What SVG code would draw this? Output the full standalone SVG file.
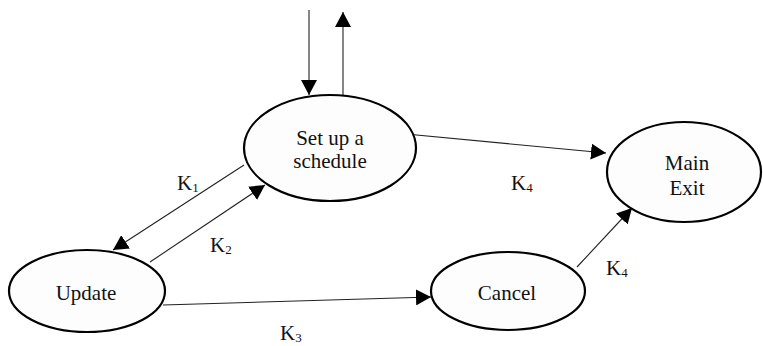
<svg xmlns="http://www.w3.org/2000/svg" width="763" height="346" viewBox="0 0 763 346">
  <defs>
    <marker id="arrow" markerUnits="userSpaceOnUse" markerWidth="16" markerHeight="16" refX="15" refY="8" orient="auto">
      <path d="M0,0 L15,8 L0,16 Z" fill="#000"/>
    </marker>
    <style>
      .state { fill: #fdfdfd; stroke: #000; stroke-width: 2.2; }
      .name { font-family: "Liberation Serif", "Times New Roman", serif; font-size: 21px; fill: #111; text-anchor: middle; }
      .edge { stroke: #222; stroke-width: 1.1; fill: none; marker-end: url(#arrow); }
      .key { font-family: "Liberation Serif", "Times New Roman", serif; font-size: 21px; fill: #111; }
      .sub { font-size: 13px; }
    </style>
  </defs>
  <rect width="763" height="346" fill="#fff"/>

  <!-- transitions -->
  <g id="connectors">
    <line class="edge" x1="309" y1="10" x2="309" y2="95"/>
    <line class="edge" x1="343" y1="95" x2="343" y2="12"/>
    <line class="edge" x1="244" y1="165" x2="113" y2="250"/>
    <line class="edge" x1="150" y1="262" x2="265" y2="185"/>
    <line class="edge" x1="163" y1="305" x2="431" y2="297"/>
    <line class="edge" x1="406" y1="134" x2="606" y2="153"/>
    <line class="edge" x1="577" y1="267" x2="632" y2="208"/>
    <text class="key" x="177" y="190">K<tspan class="sub" dy="2">1</tspan></text>
    <text class="key" x="210" y="252">K<tspan class="sub" dy="2">2</tspan></text>
    <text class="key" x="280" y="340">K<tspan class="sub" dy="2">3</tspan></text>
    <text class="key" x="511" y="190">K<tspan class="sub" dy="2">4</tspan></text>
    <text class="key" x="606" y="275">K<tspan class="sub" dy="2">4</tspan></text>
  </g>

  <g id="setup">
    <ellipse class="state" cx="330" cy="148" rx="86" ry="53"/>
    <text class="name" x="330" y="145">Set up a</text>
    <text class="name" x="330" y="168">schedule</text>
  </g>

  <g id="update">
    <ellipse class="state" cx="87" cy="291" rx="78" ry="41"/>
    <text class="name" x="86" y="300">Update</text>
  </g>

  <g id="cancel">
    <ellipse class="state" cx="508" cy="291" rx="77" ry="39"/>
    <text class="name" x="507" y="300">Cancel</text>
  </g>

  <g id="main-exit">
    <ellipse class="state" cx="684" cy="172" rx="77" ry="50"/>
    <text class="name" x="687" y="170">Main</text>
    <text class="name" x="687" y="195">Exit</text>
  </g>
</svg>
